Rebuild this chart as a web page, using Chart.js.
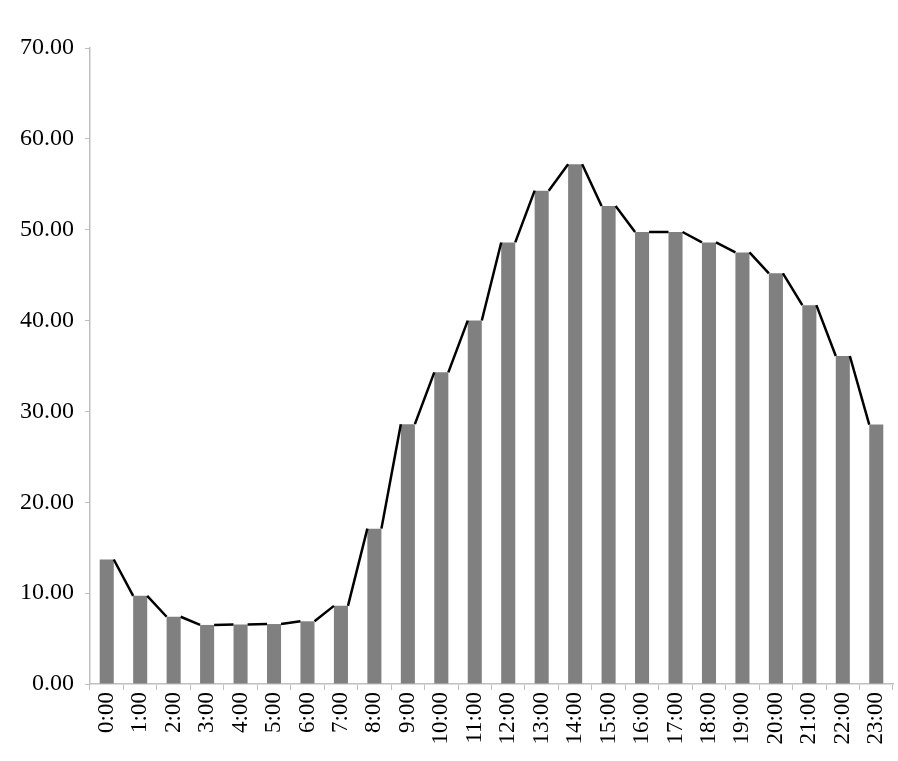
<!DOCTYPE html>
<html>
<head>
<meta charset="utf-8">
<script src="https://cdn.jsdelivr.net/npm/chart.js@4/dist/chart.umd.min.js"></script>
<style>
  html,body{margin:0;padding:0;background:#fff;}
  #wrap{width:898px;height:761px;}
</style>
</head>
<body>
<div id="wrap"><canvas id="myChart" width="898" height="761"></canvas></div>
<script>
// hours of the day
const hours=['0:00','1:00','2:00','3:00','4:00','5:00','6:00','7:00','8:00','9:00','10:00','11:00',
  '12:00','13:00','14:00','15:00','16:00','17:00','18:00','19:00','20:00','21:00','22:00','23:00']
// values
const values=[13.7,9.7,7.4,6.5,6.55,6.6,6.9,8.6,17.1,28.6,34.3,40.0,
  48.6,54.3,57.2,52.6,49.75,49.75,48.6,47.5,45.2,41.7,36.1,28.55]
const yMin=0
const yMax=70
const yStep=10

const axisGray='#bfbfbf'
const fontSerif={family:'"Liberation Serif", "Times New Roman", serif',size:24}

// joins bar tops: right top corner of one bar to left top corner of next one
const joinLine={
  id:'joinLine',
  afterDatasetsDraw(chart){
    const bars=chart.getDatasetMeta(0).data
    const ctx=chart.ctx
    ctx.save()
    ctx.strokeStyle='#000'
    ctx.lineWidth=2.5
    ctx.lineJoin='round'
    ctx.beginPath()
    for(let i=0;i<bars.length-1;i++){
      const a=bars[i].getProps(['x','y','width'],true)
      const b=bars[i+1].getProps(['x','y','width'],true)
      ctx.moveTo(a.x+a.width/2,a.y)
      ctx.lineTo(b.x-b.width/2,b.y)
    }
    ctx.stroke()
    ctx.restore()
  }
}

const ctx=document.getElementById('myChart')
const myChart=new Chart(ctx,{
  type:'bar',
  data:{
    labels:hours,
    datasets:[{
      data:values,
      backgroundColor:'#808080',
      borderWidth:0,
      barPercentage:0.42,
      categoryPercentage:1
    }]
  },
  options:{
    responsive:false,
    animation:false,
    layout:{padding:{top:48,right:5,left:0,bottom:0}},
    plugins:{legend:{display:false},tooltip:{enabled:false}},
    scales:{
      x:{
        grid:{display:true,drawOnChartArea:false,drawTicks:true,tickLength:6,color:axisGray,offset:true},
        border:{display:true,color:axisGray,width:1.5},
        ticks:{color:'#000',font:{family:fontSerif.family,size:23},minRotation:90,maxRotation:90,padding:2,autoSkip:false},
        afterFit(scale){
          scale.height=77
          scale.paddingLeft=0
          scale.paddingRight=0
        }
      },
      y:{
        min:yMin,
        max:yMax,
        grid:{display:true,drawOnChartArea:false,drawTicks:true,tickLength:5,color:axisGray},
        border:{display:true,color:axisGray,width:1.5},
        ticks:{stepSize:yStep,color:'#000',font:fontSerif,padding:11,
          callback:(v)=>Number(v).toFixed(2)},
        afterFit(scale){scale.width=90}
      }
    }
  },
  plugins:[joinLine]
})
</script>
</body>
</html>
